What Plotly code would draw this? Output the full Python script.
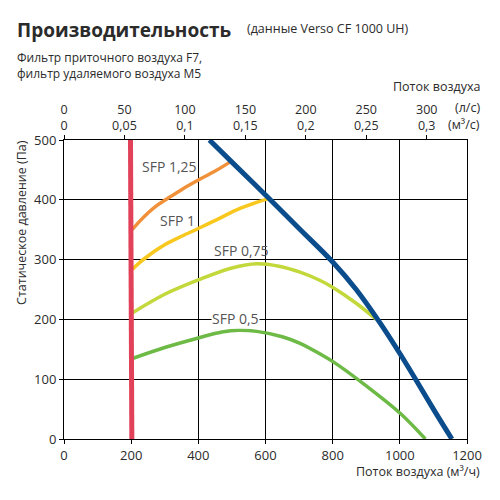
import plotly.graph_objects as go

# Кривые производительности (м³/ч, Па)
flow_min = [198, 202]
pa_min = [500, 0]

flow_fan = [433, 500, 600, 700, 800, 870, 940, 1000, 1050, 1100, 1155]
pa_fan = [500, 463, 408, 352, 296, 250, 195, 143, 97, 50, 0]

flow_125 = [203, 225, 250, 275, 305, 350, 400, 450, 494]
pa_125 = [350, 364, 378, 390, 401, 417, 433, 448, 463]

flow_100 = [204, 225, 250, 275, 300, 350, 400, 460, 509, 560, 608]
pa_100 = [284, 295, 306, 316, 325, 339, 352, 368, 382, 393, 402]

flow_075 = [201, 300, 400, 500, 574, 640, 703, 763, 802, 870, 930]
pa_075 = [210, 242, 266, 286, 293, 289, 279, 265, 253, 227, 200]

flow_050 = [206, 300, 400, 470, 520, 574, 650, 703, 763, 802, 902, 1001, 1076]
pa_050 = [135, 153, 169, 179, 182, 180, 171, 160, 142, 129, 88, 43, 0]

sfp_labels = ["SFP 1,25", "SFP 1", "SFP 0,75", "SFP 0,5"]
sfp_label_x = [315, 339, 529, 512]
sfp_label_y = [456, 366, 316, 202]

x_ticks = [0, 200, 400, 600, 800, 1000, 1200]
y_ticks = [0, 100, 200, 300, 400, 500]
ls_ticks = [0, 50, 100, 150, 200, 250, 300]
m3s_ticks = ["0", "0,05", "0,1", "0,15", "0,2", "0,25", "0,3"]

font = "Open Sans"
txt = "#2b2b2b"

fig = go.Figure()

def curve(x, y, color, width):
    fig.add_trace(go.Scatter(x=x, y=y, mode="lines", line=dict(color=color, width=width, shape="spline"),
                             hoverinfo="skip", showlegend=False))

curve(flow_125, pa_125, "#f0913a", 3.5)
curve(flow_100, pa_100, "#f8c81e", 3.5)
curve(flow_075, pa_075, "#c3d83a", 3.5)
curve(flow_050, pa_050, "#6dba47", 3.5)
curve(flow_fan, pa_fan, "#0b4d8c", 5)
curve(flow_min, pa_min, "#e2415a", 5)

# верхняя ось: л/с -> м³/ч
fig.add_trace(go.Scatter(x=[0, 1200], y=[0, 0], xaxis="x2", mode="lines",
                         line=dict(width=0), hoverinfo="skip", showlegend=False))

for t, x, y in zip(sfp_labels, sfp_label_x, sfp_label_y):
    fig.add_annotation(x=x, y=y, text=t, showarrow=False, bgcolor="white" if t == "SFP 0,5" else None,
                       font=dict(family=font, size=14, color="#555555"), borderpad=0)

ann = [
    dict(x=-0.1225, y=1.368, text="<b>Производительность</b>", size=19, xanchor="left"),
    dict(x=0.448, y=1.372, text="(данные Verso CF 1000 UH)", size=12.5, xanchor="left"),
    dict(x=-0.1225, y=1.249, text="Фильтр приточного воздуха F7,<br>фильтр удаляемого воздуха M5",
         size=12, xanchor="left"),
    dict(x=1.038, y=1.178, text="Поток воздуха", size=12.5, xanchor="right"),
    dict(x=1.038, y=1.108, text="(л/с)", size=12.5, xanchor="right"),
    dict(x=1.038, y=1.053, text="(м³/с)", size=12.5, xanchor="right"),
    dict(x=1.038, y=-0.11, text="Поток воздуха (м³/ч)", size=12.5, xanchor="right"),
]
for a in ann:
    fig.add_annotation(xref="paper", yref="paper", x=a["x"], y=a["y"], text=a["text"], showarrow=False,
                       align="left", xanchor=a["xanchor"], yanchor="middle",
                       font=dict(family=font, size=a["size"], color=txt))

fig.add_annotation(xref="paper", yref="paper", x=-0.105, y=0.725, text="Статическое давление (Па)",
                   textangle=-90, showarrow=False, xanchor="center", yanchor="middle",
                   font=dict(family=font, size=12.5, color=txt))

axis_common = dict(showline=True, linecolor="black", linewidth=1, showgrid=True, gridcolor="black",
                   gridwidth=1, zeroline=False, ticks="outside", ticklen=4, tickcolor="black",
                   tickfont=dict(family=font, size=13, color=txt), fixedrange=True, automargin=False)

# страница имеет отступ 8px, поэтому фигура чуть меньше окна
fig.update_layout(
    width=492, height=492,
    margin=dict(l=56, r=33, t=132, b=61),
    paper_bgcolor="white", plot_bgcolor="white",
    xaxis=dict(range=[0, 1200], tickvals=x_ticks, mirror=True, **axis_common),
    yaxis=dict(range=[0, 500], tickvals=y_ticks, mirror=True, **axis_common),
    xaxis2=dict(range=[0, 1200], overlaying="x", side="top", showline=False, showgrid=False,
                zeroline=False, ticks="outside", ticklen=4, tickcolor="black",
                tickvals=[v * 3.6 for v in ls_ticks],
                ticktext=[f"{a}<br>{b}" for a, b in zip(ls_ticks, m3s_ticks)],
                tickfont=dict(family=font, size=12.5, color=txt), fixedrange=True, automargin=False),
)

fig.write_html("out.html")
